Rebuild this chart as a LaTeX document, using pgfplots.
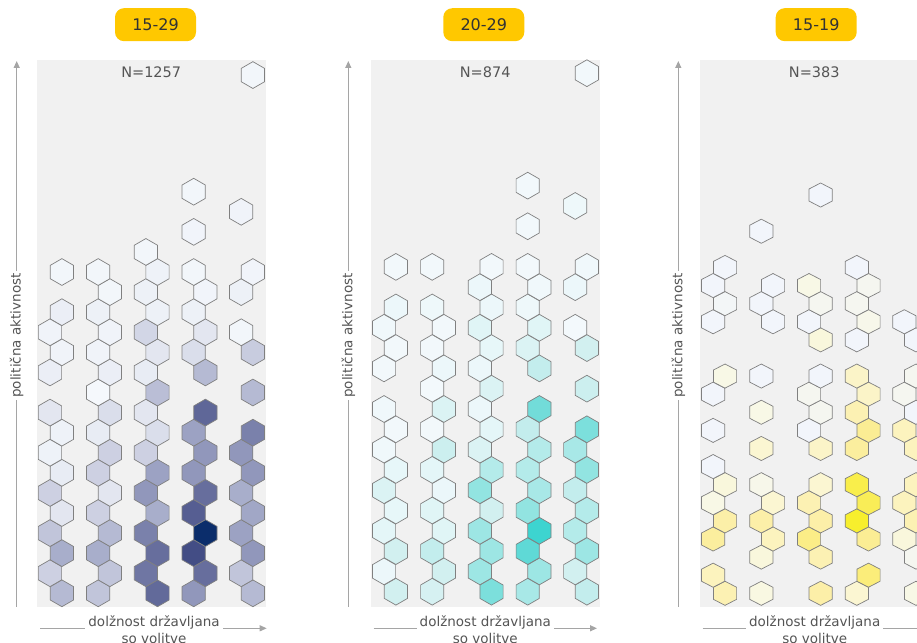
\documentclass[border=0pt]{standalone}
\usepackage{fontspec}
\setmainfont{DejaVu Sans}
\usepackage{pgfplots}
\pgfplotsset{compat=1.18}
\usetikzlibrary{arrows.meta}

\definecolor{panelbg}{RGB}{241,241,241}
\definecolor{badge}{RGB}{255,200,0}
\definecolor{axgray}{RGB}{165,165,165}
\definecolor{txtgray}{RGB}{85,85,85}

% pointy-top hexagon
\pgfdeclareplotmark{hexa}{%
  \pgfpathmoveto{\pgfpointpolar{90}{\pgfplotmarksize}}%
  \pgfpathlineto{\pgfpointpolar{150}{\pgfplotmarksize}}%
  \pgfpathlineto{\pgfpointpolar{210}{\pgfplotmarksize}}%
  \pgfpathlineto{\pgfpointpolar{270}{\pgfplotmarksize}}%
  \pgfpathlineto{\pgfpointpolar{330}{\pgfplotmarksize}}%
  \pgfpathlineto{\pgfpointpolar{30}{\pgfplotmarksize}}%
  \pgfpathclose
  \pgfusepathqfillstroke}

\pgfplotsset{
  hexpanel/.style={
    at={(#1pt,35.3pt)}, anchor=south west,
    scale only axis, width=229pt, height=546.7pt,
    xmin=0, xmax=229,
    axis line style={draw=none}, xtick=\empty, ytick=\empty,
    clip=false,
    axis background/.style={fill=panelbg},
    point meta min=0, point meta max=1,
  },
  hexes/.style={
    scatter, only marks, mark=hexa, mark size=13.4pt,
    point meta=explicit,
    scatter/use mapped color={draw=black!50, fill=mapped color},
  },
}
\tikzset{lbl/.style={text=txtgray, font=\fontsize{13.5}{17}\selectfont}}

% x = position in panel (px from left edge), y = hex row, c = shade (0..1)
\pgfplotstableread{
x y c
25.2 0 0.30
13.3 1 0.20
25.2 2 0.35
13.3 3 0.25
25.2 4 0.12
13.3 5 0.20
25.2 6 0.10
13.3 7 0.05
25.2 8 0.05
13.3 9 0.12
13.3 11 0.08
25.2 12 0.04
13.3 13 0.04
25.2 14 0.08
25.2 16 0.02
61.5 0 0.25
73.2 1 0.25
61.5 2 0.35
73.2 3 0.30
61.5 4 0.20
73.2 5 0.12
61.5 6 0.20
73.2 7 0.20
61.5 8 0.10
73.2 9 0.15
61.5 10 0.00
73.2 11 0.08
61.5 12 0.04
73.2 13 0.04
61.5 14 0.06
73.2 15 0.02
61.5 16 0.02
120.8 0 0.68
109.2 1 0.60
120.8 2 0.65
109.2 3 0.55
120.8 4 0.35
109.2 5 0.45
120.8 6 0.40
109.2 7 0.20
120.8 8 0.15
109.2 9 0.12
120.8 10 0.28
109.2 11 0.10
120.8 12 0.12
109.2 13 0.18
120.8 14 0.06
109.2 15 0.06
120.8 16 0.05
109.2 17 0.02
157 0 0.45
168.7 1 0.65
157 2 0.85
168.7 3 1.00
157 4 0.75
168.7 5 0.65
157 6 0.45
168.7 7 0.45
157 8 0.40
168.7 9 0.70
168.7 11 0.30
157 12 0.15
168.7 13 0.12
157 14 0.06
168.7 15 0.03
157 16 0.02
157 18 0.03
157 20 0.02
216.2 0 0.30
204.5 1 0.25
216.2 2 0.45
204.5 3 0.40
216.2 4 0.38
204.5 5 0.35
216.2 6 0.45
204.5 7 0.45
216.2 8 0.55
216.2 10 0.30
216.2 12 0.22
204.5 13 0.02
204.5 15 0.06
216.2 16 0.03
204.5 19 0.04
216.2 25.81 0.02
}\groupA

\pgfplotstableread{
x y c
25.2 0 0.20
13.3 1 0.05
25.2 2 0.20
13.3 3 0.10
25.2 4 0.08
13.3 5 0.15
25.2 6 0.08
13.3 7 0.03
25.2 8 0.02
13.3 9 0.03
13.3 11 0.02
25.2 12 0.02
13.3 13 0.03
25.2 14 0.05
25.2 16 0.02
61.5 0 0.18
73.2 1 0.20
61.5 2 0.25
73.2 3 0.12
61.5 4 0.12
73.2 5 0.06
61.5 6 0.10
73.2 7 0.22
61.5 8 0.02
73.2 9 0.15
61.5 10 0.01
73.2 11 0.05
61.5 12 0.02
73.2 13 0.02
61.5 14 0.04
61.5 16 0.02
120.8 0 0.55
109.2 1 0.40
120.8 2 0.40
109.2 3 0.40
120.8 4 0.20
109.2 5 0.45
120.8 6 0.30
109.2 7 0.15
120.8 8 0.10
109.2 9 0.05
120.8 10 0.15
109.2 11 0.05
120.8 12 0.08
109.2 13 0.12
120.8 14 0.05
109.2 15 0.05
120.8 16 0.02
157 0 0.35
168.7 1 0.40
157 2 0.70
168.7 3 1.00
157 4 0.45
168.7 5 0.35
157 6 0.30
168.7 7 0.30
157 8 0.25
168.7 9 0.60
168.7 11 0.25
157 12 0.15
168.7 13 0.12
157 14 0.04
168.7 15 0.03
157 16 0.02
157 18 0.02
157 20 0.02
216.2 0 0.25
204.5 1 0.20
216.2 2 0.40
204.5 3 0.30
216.2 4 0.30
204.5 5 0.25
216.2 6 0.45
204.5 7 0.35
216.2 8 0.55
216.2 10 0.22
216.2 12 0.20
204.5 13 0.01
204.5 15 0.05
216.2 16 0.03
204.5 19 0.04
216.2 25.54 0.02
}\groupB

\pgfplotstableread{
x y c
25.2 0 0.35
13.3 1 0.30
13.3 3 0.45
25.2 4 0.40
13.3 5 0.10
25.2 6 0.15
13.3 7 0.00
13.3 9 0.00
13.3 11 0.00
25.2 12 0.10
13.3 15 0.00
25.2 16 0.02
13.3 17 0.00
25.2 18 0.00
61.5 0 0.12
61.5 2 0.15
73.2 3 0.30
61.5 4 0.40
73.2 5 0.20
61.5 6 0.08
61.5 8 0.20
61.5 10 0.10
61.5 12 0.00
73.2 15 0.00
61.5 16 0.00
73.2 17 0.00
61.5 20 0.00
120.8 0 0.40
120.8 2 0.35
109.2 3 0.55
120.8 4 0.40
109.2 5 0.35
120.8 6 0.20
120.8 8 0.25
109.2 9 0.00
120.8 10 0.05
109.2 11 0.05
120.8 12 0.00
120.8 14 0.15
109.2 15 0.00
120.8 16 0.05
109.2 17 0.10
120.8 22 0.00
157 0 0.20
168.7 1 0.60
168.7 3 0.50
157 4 1.00
168.7 5 0.75
157 6 0.80
157 8 0.45
168.7 9 0.50
157 10 0.35
168.7 11 0.25
157 12 0.25
157 14 0.00
168.7 15 0.08
157 16 0.05
168.7 17 0.05
157 18 0.00
216.2 0 0.10
216.2 2 0.05
204.5 3 0.15
216.2 4 0.35
204.5 5 0.30
216.2 6 0.30
216.2 8 0.30
204.5 9 0.30
216.2 10 0.00
204.5 11 0.05
216.2 12 0.05
216.2 14 0.00
204.5 15 0.00
}\groupC

\begin{document}
\begin{tikzpicture}
\useasboundingbox (0pt,0pt) rectangle (917pt,642pt);

% 15-29
\begin{axis}[hexpanel=36.7, ymin=-0.667, ymax=26.56,
  colormap={navy}{rgb255(0cm)=(245,248,252) rgb255(1cm)=(232,236,244)
    rgb255(2cm)=(205,208,226) rgb255(3cm)=(181,186,211) rgb255(4cm)=(156,162,195)
    rgb255(5cm)=(134,140,180) rgb255(6cm)=(111,118,163) rgb255(7cm)=(95,103,152)
    rgb255(8.5cm)=(67,77,133) rgb255(10cm)=(11,45,107)}]
  \addplot[hexes, mark options={line width=0.7pt}] table[meta=c] {\groupA};
\end{axis}

% 20-29
\begin{axis}[hexpanel=370.7, ymin=-0.739, ymax=26.19,
  colormap={teal}{rgb255(0cm)=(245,249,252) rgb255(1cm)=(228,246,248)
    rgb255(2cm)=(210,240,240) rgb255(3cm)=(180,235,234) rgb255(4cm)=(157,230,228)
    rgb255(5cm)=(135,226,223) rgb255(6cm)=(114,220,217) rgb255(7cm)=(95,217,214)
    rgb255(10cm)=(61,212,208)}]
  \addplot[hexes, mark options={line width=0.7pt}] table[meta=c] {\groupB};
\end{axis}

% 15-19
\begin{axis}[hexpanel=699.8, ymin=-0.74, ymax=29.46,
  colormap={sun}{rgb255(0cm)=(242,245,251) rgb255(1cm)=(248,248,230)
    rgb255(2cm)=(251,246,210) rgb255(3cm)=(252,243,190) rgb255(4cm)=(252,239,168)
    rgb255(5cm)=(251,237,148) rgb255(6cm)=(251,237,122) rgb255(7cm)=(250,237,100)
    rgb255(8cm)=(249,238,75) rgb255(10cm)=(247,239,45)}]
  \addplot[hexes, mark options={line width=0.7pt, yscale=0.9}] table[meta=c] {\groupC};
\end{axis}

% badges
\foreach \cx/\t in {155.5/15-29, 483.8/20-29, 816.2/15-19}
  \node[fill=badge, rounded corners=9pt, minimum width=81pt, minimum height=33pt,
        text=black!80, font=\fontsize{16}{19}\selectfont] at (\cx pt,617.3pt) {\t};

% N labels
\node[text=txtgray, font=\fontsize{14.5}{17}\selectfont] at (151.2pt,570pt) {N=1257};
\node[text=txtgray, font=\fontsize{14.5}{17}\selectfont] at (485.2pt,570pt) {N=874};
\node[text=txtgray, font=\fontsize{14.5}{17}\selectfont] at (814.3pt,570pt) {N=383};

% axis arrows and titles
\foreach \yx/\xa/\xb/\xc in {16.7/40/266.7/154, 348.3/373.7/597/485.3, 678.3/702.7/930/814.7} {
  \draw[axgray, line width=1.2pt, -{Triangle[length=7pt,width=6pt]}] (\yx pt,35.3pt) -- (\yx pt,581pt);
  \node[lbl, fill=white, rotate=90, inner xsep=2pt, inner ysep=1pt] at (\yx pt,306.5pt) {politična aktivnost};
  \draw[axgray, line width=1.2pt, -{Triangle[length=7pt,width=6pt]}] (\xa pt,13.7pt) -- (\xb pt,13.7pt);
  \node[lbl, fill=white, align=center, inner xsep=3pt, inner ysep=0pt] at (\xc pt,12pt) {dolžnost državljana\\so volitve};
}
\end{tikzpicture}
\end{document}
